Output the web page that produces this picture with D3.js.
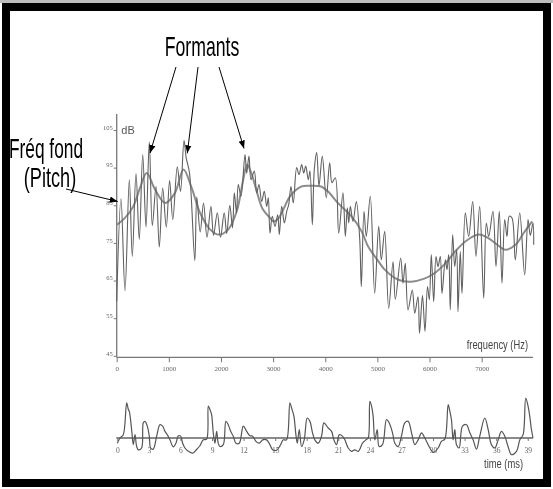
<!DOCTYPE html>
<html><head><meta charset="utf-8">
<script src="https://cdn.jsdelivr.net/npm/d3@7"></script>
<style>body{margin:0;background:#fff} svg{display:block;will-change:transform} text{-webkit-font-smoothing:antialiased}</style>
</head><body>
<svg id="c" width="553" height="489"></svg>
<script>
// ---- data ----
const freqTicks = [0,1000,2000,3000,4000,5000,6000,7000];
const dbTicks = [45,55,65,75,85,95,105];
const timeTicks = [0,3,6,9,12,15,18,21,24,27,30,33,36,39];

const specFreq = [0,82,159,242,299,370,433,499,562,625,683,754,817,882,951,1015,1076,1162,1224,1291,1333,1396,1498,1536,1602,1665,1732,1807,1857,1930,1991,2062,2110,2169,2221,2256,2298,2332,2384,2461,2493,2537,2576,2639,2685,2729,2781,2831,2877,2908,2940,2984,3036,3088,3119,3165,3215,3261,3299,3343,3387,3452,3497,3548,3587,3625,3675,3707,3752,3790,3836,3880,3943,4020,4085,4129,4193,4258,4340,4385,4423,4450,4481,4532,4596,4661,4692,4743,4787,4864,4948,5025,5075,5140,5217,5300,5344,5447,5491,5535,5587,5670,5716,5779,5808,5865,5913,5961,5996,6034,6080,6124,6163,6207,6239,6303,6335,6368,6398,6444,6483,6521,6546,6590,6623,6686,6751,6828,6891,6962,7039,7089,7135,7217,7275,7338,7390,7442,7486,7530,7582,7645,7730,7825,7889,7933,7985,7998];
const specDb = [59.4,86.8,62.3,91.8,71.4,93.4,75.9,98.5,79.2,101.8,79.6,90,73.9,89.6,79.2,91.6,81.2,95.2,88.7,102.2,97.6,93.6,70.3,87.2,77.9,85.6,76.5,84.7,77,83,76.5,83,77.5,85,79,88.3,83,90.5,87.4,98.5,93.5,98.1,91.8,94.1,88.3,90.5,86,88.7,84.7,87,77.6,82.1,79.4,82.5,77.2,84.7,80.3,83.4,85.2,90,85.6,95,93.2,95.8,93.6,95.4,91.8,94.1,79.8,94.5,99,90.1,98,87,96.3,91,92.3,77.6,88.3,76.7,84.3,80.3,84.7,80.7,86,76,63.4,83.4,76.7,87.4,61.6,79.4,70.5,78.1,57.6,70,60,71,64.3,69.6,57.2,62.5,56.3,60.7,51,61,51.5,63.4,59.9,71.9,59.4,71.4,68.7,71.4,61.6,70.5,67.9,71.9,57.2,77.2,68.7,73.2,56.7,72.7,61.6,83,76.7,86,71.4,84.7,60.3,80.3,76.7,83.4,68.7,83.4,64.3,81.2,76.7,82.1,81.6,70.5,83,66.5,81.2,77,80.3,74.5];

const envFreq = [0,150,318,447,575,734,930,1118,1281,1438,1598,1790,1958,2141,2302,2428,2500,2570,2680,2800,2950,3004,3100,3200,3330,3548,3700,3920,4050,4250,4500,4700,4820,5000,5140,5400,5650,5900,6080,6300,6490,6700,6940,7100,7300,7450,7650,7800,7970];
const envDb = [79.8,81.5,84.7,89.6,93.6,89.2,85.6,88.3,94.5,89.6,83,78.6,77.2,78.6,83.4,91.9,95.8,94,89,84,81.5,80.7,81.5,84,87.5,90,90.2,90,88.7,85.5,82.1,78,74.1,70.5,67.9,65.2,64.7,65.5,66.8,69.5,72.7,75.5,77.2,76.5,74.5,73.2,74.5,77.5,80.7];

const waveTime = [0,0.26,0.57,0.89,1.05,1.14,1.36,1.52,1.68,1.84,2.0,2.31,2.47,2.63,2.85,3.04,3.17,3.42,3.74,4.06,4.31,4.53,4.75,5.0,5.32,5.57,5.80,6.02,6.21,6.43,6.75,7.16,7.47,7.85,8.17,8.49,8.65,8.80,8.96,9.12,9.28,9.44,9.59,9.75,10.07,10.32,10.54,10.77,11.02,11.27,11.59,11.97,12.29,12.60,12.86,13.17,13.49,13.81,14.19,14.50,14.76,15.14,15.52,15.77,16.08,16.40,16.56,16.78,16.97,17.10,17.29,17.51,17.76,18.05,18.30,18.55,18.77,19.09,19.41,19.63,20.04,20.36,20.58,20.83,21.09,21.40,21.62,21.94,22.26,22.57,22.89,23.3,23.62,23.84,24.0,24.16,24.31,24.47,24.7,24.88,25.2,25.58,25.83,26.15,26.37,26.69,27.0,27.32,27.64,27.96,28.27,28.59,28.91,29.22,29.7,30.01,30.49,30.80,31.12,31.44,31.6,31.75,31.91,32.07,32.23,32.48,32.8,33.18,33.5,33.81,34.13,34.44,34.92,35.24,35.55,35.87,36.19,36.5,36.82,37.13,37.45,37.93,38.25,38.56,38.81,39.03,39.19,39.35,39.5];
const waveAmp = [-0.14,0,0.09,0.95,0.77,0.72,0.23,-0.18,0.09,-0.23,-0.32,-0.27,0.41,0.45,0.32,0.05,-0.27,-0.30,0.05,0.36,0.32,0.18,0.09,-0.05,-0.24,-0.14,0.06,0.05,-0.14,-0.27,-0.36,-0.41,-0.33,-0.21,-0.05,-0.03,0.86,0.77,0.63,0.14,-0.14,0.18,-0.14,-0.23,-0.18,0.45,0.36,0.18,0.05,-0.14,-0.14,0.32,0.18,0.06,0.05,-0.09,-0.14,-0.05,-0.05,-0.18,-0.32,-0.33,-0.18,-0.05,-0.05,0.95,0.81,0.59,0.09,-0.14,0.23,-0.23,-0.05,0.54,0.45,0.14,-0.05,-0.14,0.05,0.41,0.27,0.18,-0.05,-0.18,0.09,0.05,-0.05,-0.27,-0.36,-0.32,-0.36,-0.14,-0.05,0,0.99,0.86,0.59,-0.05,0.23,-0.23,-0.18,0.5,0.41,0.14,-0.14,-0.23,0.05,0.41,0.45,0.14,-0.18,-0.05,0.14,0,-0.27,-0.39,-0.27,-0.09,-0.03,0.9,0.72,0.5,-0.05,0.23,-0.18,-0.27,0.32,0.36,0.14,-0.05,-0.3,0.05,0.54,0.23,-0.18,-0.27,-0.05,0.18,0.05,-0.23,-0.45,-0.36,-0.05,0.09,1.08,0.86,0.59,0.23,0];

// ---- drawing ----
const svg = d3.select("#c");
const NARROW = "'Liberation Sans', Arial, sans-serif";
const SERIF = "'Liberation Serif', 'DejaVu Serif', serif";

// frame
svg.append("rect").attr("x",0).attr("y",0).attr("width",553).attr("height",3).attr("fill","#bdbdbd");
svg.append("rect").attr("x",6).attr("y",7).attr("width",541).attr("height",476)
  .attr("fill","none").attr("stroke","#000").attr("stroke-width",8);

const x = d3.scaleLinear().domain([0,8000]).range([116.7,533.8]);
const y = d3.scaleLinear().domain([45,105]).range([355.8,130]);

const defs = svg.append("defs");
defs.append("marker").attr("id","ah").attr("viewBox","0 -4 8 8")
  .attr("refX",8).attr("refY",0).attr("markerWidth",8).attr("markerHeight",8)
  .attr("markerUnits","userSpaceOnUse").attr("orient","auto")
  .append("path").attr("d","M0,-3.2L8,0L0,3.2Z").attr("fill","#000");

// y axis
const yAxis = d3.axisLeft(y).tickValues(dbTicks).tickSize(3).tickPadding(1);
const gy = svg.append("g").attr("transform","translate(116.7,0)").call(yAxis);
gy.select(".domain").remove();
gy.selectAll(".tick line").attr("stroke","#777");
gy.selectAll(".tick text").attr("font-family",SERIF).attr("font-size",6.5).attr("fill","#666").attr("dy","-0.1em");
svg.append("line").attr("x1",116.7).attr("x2",116.7).attr("y1",114).attr("y2",357.3)
  .attr("stroke","#777").attr("stroke-width",1.3);

// x axis
const xAxis = d3.axisBottom(x).tickValues(freqTicks).tickSize(5).tickPadding(4).tickFormat(d3.format("d"));
const gx = svg.append("g").attr("transform","translate(0,357.3)").call(xAxis);
gx.select(".domain").remove();
gx.selectAll(".tick line").attr("stroke","#777");
gx.selectAll(".tick text").attr("font-family",SERIF).attr("font-size",7).attr("fill","#666");
svg.append("line").attr("x1",116.7).attr("x2",533).attr("y1",357.3).attr("y2",357.3)
  .attr("stroke","#777").attr("stroke-width",1.3);

svg.append("text").attr("x",128).attr("y",134).attr("text-anchor","middle")
  .attr("font-family",NARROW).attr("font-size",11).attr("fill","#555").text("dB");
svg.append("text").attr("transform","translate(528,348.5) scale(0.78,1)").attr("text-anchor","end")
  .attr("font-family",NARROW).attr("font-size",12).attr("fill","#444").text("frequency (Hz)");

// envelope
const env = d3.zip(envFreq, envDb);
svg.append("path").datum(env)
  .attr("d", d3.line().x(d=>x(d[0])).y(d=>y(d[1])).curve(d3.curveCatmullRom.alpha(0.5)))
  .attr("fill","none").attr("stroke","#8c8c8c").attr("stroke-width",2);

// spectrum
const spec = d3.zip(specFreq, specDb);
svg.append("path").datum(spec)
  .attr("d", d3.line().x(d=>x(d[0])).y(d=>y(d[1])).curve(d3.curveCatmullRom.alpha(0.5)))
  .attr("fill","none").attr("stroke","#606060").attr("stroke-width",1.1);

// waveform panel
const tx = d3.scaleLinear().domain([0,39.5]).range([117.3,533]);
const ty = d3.scaleLinear().domain([0,1]).range([438,401]);
svg.append("line").attr("x1",tx(0)-1).attr("x2",tx(39.5)).attr("y1",ty(0)).attr("y2",ty(0))
  .attr("stroke","#8a8a8a").attr("stroke-width",2);
const tAxis = d3.axisBottom(tx).tickValues(timeTicks).tickSize(3).tickPadding(7);
const gt = svg.append("g").attr("transform",`translate(0,${ty(0)})`).call(tAxis);
gt.select(".domain").remove();
gt.selectAll(".tick line").attr("stroke","#777");
gt.selectAll(".tick text").attr("font-family",SERIF).attr("font-size",7.5).attr("fill","#666");
const wave = d3.zip(waveTime, waveAmp);
svg.append("path").datum(wave)
  .attr("d", d3.line().x(d=>tx(d[0])).y(d=>ty(d[1])).curve(d3.curveCatmullRom.alpha(0.5)))
  .attr("fill","none").attr("stroke","#555").attr("stroke-width",1.2);
svg.append("text").attr("transform","translate(523,468) scale(0.78,1)").attr("text-anchor","end")
  .attr("font-family",NARROW).attr("font-size",12).attr("fill","#444").text("time (ms)");

// annotations
const ann = svg.append("g").attr("font-family",NARROW).attr("fill","#000");
ann.append("text").attr("transform","translate(202,56) scale(0.62,1)").attr("text-anchor","middle")
  .attr("font-size",28.5).text("Formants");
ann.append("text").attr("transform","translate(46,158) scale(0.63,1)").attr("text-anchor","middle")
  .attr("font-size",27.5).text("Fréq fond");
ann.append("text").attr("transform","translate(50,187) scale(0.66,1)").attr("text-anchor","middle")
  .attr("font-size",27.5).text("(Pitch)");

const arrows = [
  {from:[176,67], to:[x(640), y(98.9)]},
  {from:[198,67], to:[x(1354), y(98.8)]},
  {from:[219,67], to:[x(2442), y(100.1)]},
  {from:[66,189], to:[x(0)+1, y(86)]}
];
svg.append("g").selectAll("line").data(arrows).join("line")
  .attr("x1",d=>d.from[0]).attr("y1",d=>d.from[1]).attr("x2",d=>d.to[0]).attr("y2",d=>d.to[1])
  .attr("stroke","#000").attr("stroke-width",1).attr("marker-end","url(#ah)");
</script>
</body></html>
